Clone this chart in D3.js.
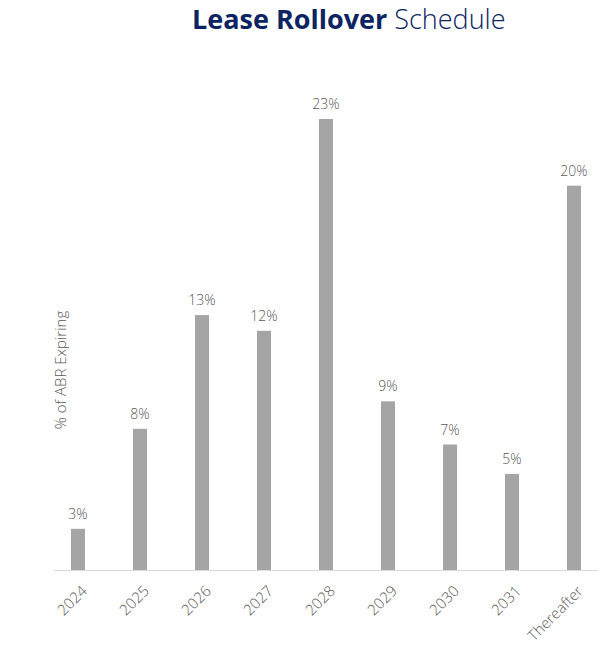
<!DOCTYPE html>
<html>
<head>
<meta charset="utf-8">
<script src="https://cdn.jsdelivr.net/npm/d3@7"></script>
<style>
  body { margin: 0; background: #fff; }
  text { font-family: "Open Sans", "Lato", sans-serif; }
</style>
</head>
<body>
<svg id="chart"></svg>
<script>
// data
const years = ['2024', '2025', '2026', '2027', '2028', '2029', '2030', '2031', 'Thereafter'];
const expiring = [2.1, 7.2, 13.0, 12.2, 23.0, 8.6, 6.4, 4.9, 19.6];
const labels = ['3%', '8%', '13%', '12%', '23%', '9%', '7%', '5%', '20%'];

const width = 600, height = 649;
const baseY = 570;

const svg = d3.select('#chart')
    .attr('width', width)
    .attr('height', height);

const x = d3.scaleBand()
    .domain(years)
    .range([47, 605])
    .paddingInner(0.774)
    .paddingOuter(0.387);

const y = d3.scaleLinear()
    .domain([0, 23])
    .range([baseY, 119]);

// title
const title = svg.append('text')
    .attr('x', 192)
    .attr('y', 29)
    .attr('fill', '#0c2461')
    .style('font-size', '27px');
title.append('tspan')
    .style('font-weight', 700)
    .text('Lease Rollover ');
title.append('tspan')
    .style('font-weight', 300)
    .text('Schedule');

// bars
svg.append('g')
    .selectAll('rect')
    .data(expiring)
    .join('rect')
    .attr('x', (d, i) => x(years[i]))
    .attr('y', d => y(d))
    .attr('width', x.bandwidth())
    .attr('height', d => baseY - y(d))
    .attr('fill', '#a5a5a5');

// value labels
svg.append('g')
    .selectAll('text')
    .data(expiring)
    .join('text')
    .attr('x', (d, i) => x(years[i]) + x.bandwidth() / 2)
    .attr('y', d => y(d) - 10)
    .attr('text-anchor', 'middle')
    .attr('fill', '#595959')
    .style('font-size', '14px')
    .style('font-weight', 300)
    .text((d, i) => labels[i]);

// x axis
const xAxis = svg.append('g')
    .attr('transform', `translate(0,${baseY})`)
    .call(d3.axisBottom(x).tickSize(0).tickPadding(0));
xAxis.select('.domain')
    .attr('d', 'M54,0.5H598')
    .attr('stroke', '#d9d9d9');
xAxis.selectAll('.tick text')
    .attr('fill', '#595959')
    .style('font-size', '15px')
    .style('font-weight', 300)
    .attr('text-anchor', 'end')
    .attr('dy', null)
    .attr('y', null)
    .attr('transform', 'translate(10,22) rotate(-45)');

// y axis title
svg.append('text')
    .attr('transform', 'translate(66,370) rotate(-90)')
    .attr('text-anchor', 'middle')
    .attr('fill', '#595959')
    .style('font-size', '15px')
    .style('font-weight', 300)
    .text('% of ABR Expiring');
</script>
</body>
</html>
